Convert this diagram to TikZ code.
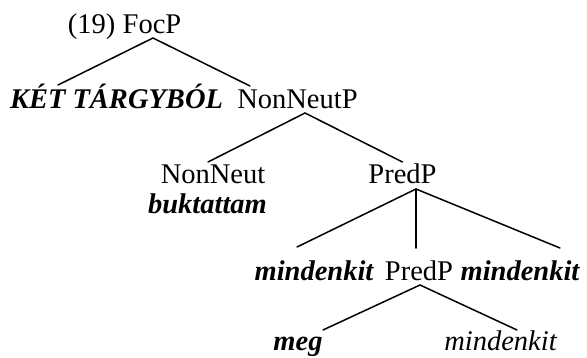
\documentclass[tikz,border=0pt]{standalone}
\usepackage{fontspec}
\setmainfont{Liberation Serif}
\begin{document}
\begin{tikzpicture}[x=1pt,y=-1pt,
  lbl/.style={anchor=base,inner sep=0pt,font=\fontsize{28.5}{30}\selectfont},
  bi/.style={lbl,font=\fontsize{28.5}{30}\selectfont\bfseries\itshape},
  it/.style={lbl,font=\fontsize{28.5}{30}\selectfont\itshape},
  branch/.style={line width=1.5pt,line cap=round}]
\useasboundingbox (0,0) rectangle (587,357);
\node[lbl] (num) at (91.7,33) {(19)};
\node[lbl] (foc) at (152,33) {FocP};
\node[bi] (ket) at (116.5,108) {KÉT TÁRGYBÓL};
\node[lbl] (nnp) at (297.5,108) {NonNeutP};
\node[lbl] (nn) at (213,183) {NonNeut};
\node[bi] (bk) at (207.5,213) {buktattam};
\node[lbl] (pp) at (402.5,183) {PredP};
\node[bi] (m1) at (314,280) {mindenkit};
\node[lbl] (pp2) at (419,280) {PredP};
\node[bi] (m2) at (520,280) {mindenkit};
\node[bi] (meg) at (298,350) {meg};
\node[it] (m3) at (500.5,350) {mindenkit};
\draw[branch] ([xshift=1pt,yshift=-5pt]foc.base) -- ([xshift=-58.5pt,yshift=23pt]ket.base);
\draw[branch] ([xshift=1pt,yshift=-5pt]foc.base) -- ([xshift=-47.5pt,yshift=22pt]nnp.base);
\draw[branch] ([xshift=7.5pt,yshift=-5pt]nnp.base) -- ([xshift=-5pt,yshift=21pt]nn.base);
\draw[branch] ([xshift=7.5pt,yshift=-5pt]nnp.base) -- ([xshift=0pt,yshift=21pt]pp.base);
\draw[branch] ([xshift=13.5pt,yshift=-6pt]pp.base) -- ([xshift=-17pt,yshift=33pt]m1.base);
\draw[branch] ([xshift=13.5pt,yshift=-6pt]pp.base) -- ([xshift=-3pt,yshift=32pt]pp2.base);
\draw[branch] ([xshift=13.5pt,yshift=-6pt]pp.base) -- ([xshift=40pt,yshift=32pt]m2.base);
\draw[branch] ([xshift=1pt,yshift=-5pt]pp2.base) -- ([xshift=25pt,yshift=20pt]meg.base);
\draw[branch] ([xshift=1pt,yshift=-5pt]pp2.base) -- ([xshift=16.5pt,yshift=20pt]m3.base);
\end{tikzpicture}
\end{document}
